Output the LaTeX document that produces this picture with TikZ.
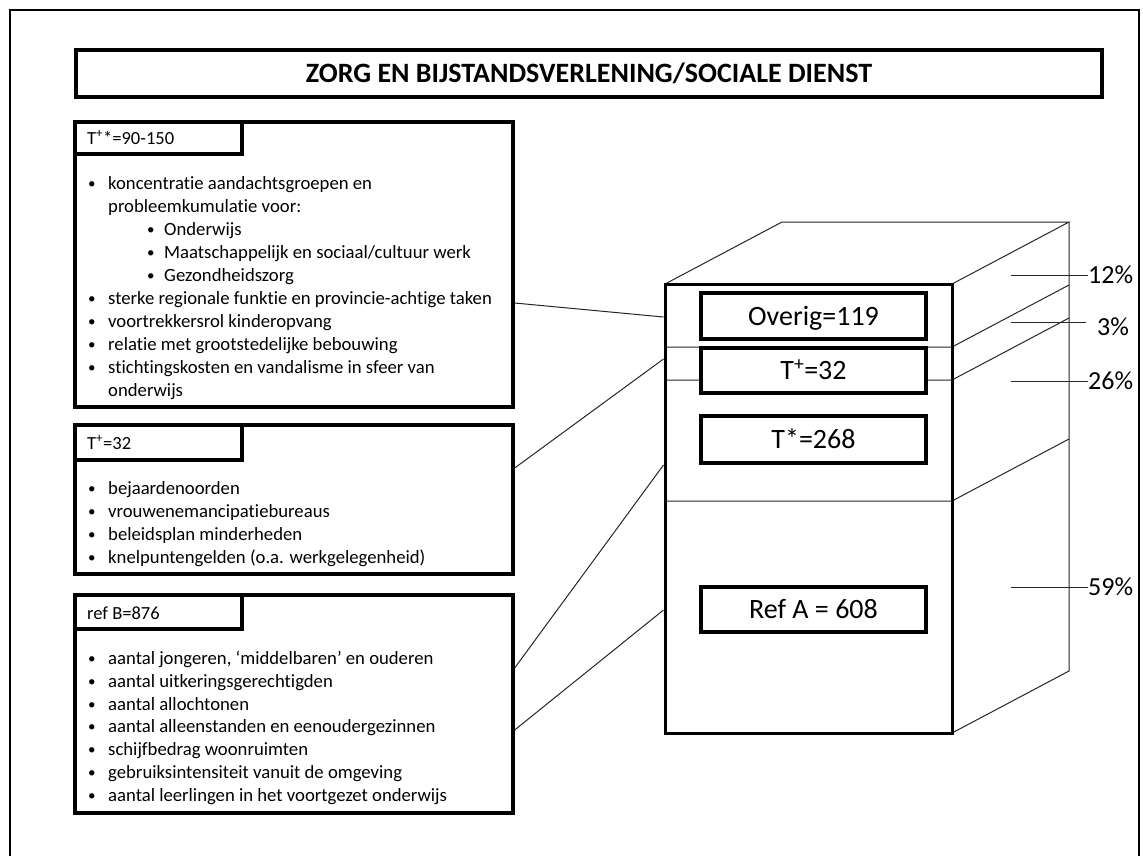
\documentclass[tikz,border=0pt]{standalone}
\usepackage{fontspec}
\setmainfont{Carlito}[Ligatures=NoCommon]
\usetikzlibrary{calc}

% bullet with a fixed indent for the list lines
\newcommand\bulitem[2][20pt]{\makebox[#1][l]{\raisebox{1pt}{\fontsize{15}{15}\selectfont\textbullet}}#2}

\tikzset{
  frameline/.style={line width=2pt},
  thinline/.style={line width=1pt, black!85},
  boxline/.style={draw, line width=3.3pt, inner sep=0pt},
  listbox/.style={boxline, rectangle, minimum width=438pt},
  tabbox/.style={boxline, rectangle, minimum width=167pt},
  hdr/.style={anchor=base west, inner sep=0pt, font=\fontsize{18.5}{23}\selectfont},
  itm/.style={anchor=base west, inner sep=0pt, font=\fontsize{18.7}{23}\selectfont},
  valbox/.style={boxline, fill=white, minimum width=225pt,
    font=\fontsize{28}{32}\selectfont, text height=18pt, text depth=0pt},
  pct/.style={anchor=west, inner sep=0pt, font=\fontsize{26}{30}\selectfont,
    text height=16.5pt, text depth=0pt},
}

\begin{document}
\begin{tikzpicture}[x=1pt, y=-1pt]
\useasboundingbox (0,0) rectangle (1143,855);

% outer frame (runs off the bottom of the page)
\draw[frameline] (10,860) -- (10,10) -- (1139,10) -- (1139,860);

% title
\node[boxline, minimum width=1026pt, minimum height=47pt,
      font=\fontsize{28}{32}\selectfont\bfseries, text height=18pt, text depth=0pt]
  (title) at (589,73.5) {ZORG EN BIJSTANDSVERLENING/SOCIALE DIENST};

% ---------- left column: three lists ----------
\node[listbox, minimum height=285pt] (b1) at (294,264.5) {};
\node[tabbox, minimum height=32pt] (t1) at (158.5,138) {};
\node[hdr] (h1) at (87,144) {T\textsuperscript{+}*=90-150};

\node[itm] (a1) at (88,189) {\bulitem{koncentratie aandachtsgroepen en}};
\node[itm] (a2) at (108,212) {probleemkumulatie voor:};
\node[itm] (a3) at (147,235) {\bulitem[17pt]{Onderwijs}};
\node[itm] (a4) at (147,258) {\bulitem[17pt]{Maatschappelijk en sociaal/cultuur werk}};
\node[itm] (a5) at (147,281) {\bulitem[17pt]{Gezondheidszorg}};
\node[itm] (a6) at (88,304) {\bulitem{sterke regionale funktie en provincie-achtige taken}};
\node[itm] (a7) at (88,327) {\bulitem{voortrekkersrol kinderopvang}};
\node[itm] (a8) at (88,350) {\bulitem{relatie met grootstedelijke bebouwing}};
\node[itm] (a9) at (88,373) {\bulitem{stichtingskosten en vandalisme in sfeer van}};
\node[itm] (a10) at (108,396) {onderwijs};

\node[listbox, minimum height=149pt] (b2) at (294,499.5) {};
\node[tabbox, minimum height=35pt] (t2) at (158.5,442.5) {};
\node[hdr] (h2) at (87,449) {T\textsuperscript{+}=32};

\node[itm] (c1) at (88,494) {\bulitem{bejaardenoorden}};
\node[itm] (c2) at (88,517) {\bulitem{vrouwenemancipatiebureaus}};
\node[itm] (c3) at (88,540) {\bulitem{beleidsplan minderheden}};
\node[itm] (c4) at (88,563) {\bulitem{knelpuntengelden (o.a. werkgelegenheid)}};

\node[listbox, minimum height=218pt] (b3) at (294,704) {};
\node[tabbox, minimum height=34pt] (t3) at (158.5,612) {};
\node[hdr] (h3) at (87,619) {ref B=876};

\node[itm] (d1) at (88,664) {\bulitem{aantal jongeren, ‘middelbaren’ en ouderen}};
\node[itm] (d2) at (88,687) {\bulitem{aantal uitkeringsgerechtigden}};
\node[itm] (d3) at (88,710) {\bulitem{aantal allochtonen}};
\node[itm] (d4) at (88,732) {\bulitem{aantal alleenstanden en eenoudergezinnen}};
\node[itm] (d5) at (88,755) {\bulitem{schijfbedrag woonruimten}};
\node[itm] (d6) at (88,778) {\bulitem{gebruiksintensiteit vanuit de omgeving}};
\node[itm] (d7) at (88,801) {\bulitem{aantal leerlingen in het voortgezet onderwijs}};

% ---------- the block ----------
\coordinate (F1) at (665,284);
\coordinate (F2) at (952,284);
\coordinate (F3) at (952,733);
\coordinate (B1) at (782,222);
\coordinate (B2) at (1069,222);
\coordinate (B3) at (1069,671);

% top and side faces
\draw[thinline] (F1) -- (B1) -- (B2) -- (F2);
\draw[thinline] (B2) -- (B3) -- (F3);

% layer boundaries, front and side
\draw[thinline] (665,347) -- (952,347) -- (1069,285);
\draw[thinline] (665,380) -- (952,380) -- (1069,318);
\draw[thinline] (665,501) -- (952,501) -- (1069,439);

% front face
\node[draw, line width=3pt, minimum width=287pt, minimum height=449pt, inner sep=0pt]
  (front) at (808.5,508.5) {};

% values per layer
\node[valbox, minimum height=46pt] (v1) at (813.5,316) {Overig=119};
\node[valbox, minimum height=45pt] (v2) at (813.5,370.5) {T\textsuperscript{+}=32};
\node[valbox, minimum height=47pt] (v3) at (813.5,439.5) {T*=268};
\node[valbox, minimum height=45pt] (v4) at (813.5,609.5) {Ref A = 608};

% shares
\node[pct] (p12) at (1088,275) {12\%};
\node[pct] (p3) at (1097,327) {3\%};
\node[pct] (p26) at (1088,381) {26\%};
\node[pct] (p59) at (1088,587) {59\%};

\coordinate (l12) at (1011,275);
\coordinate (l3a) at (1011,322);
\coordinate (l3b) at (1086,322);
\coordinate (l26) at (1011,381);
\coordinate (l59) at (1011,587);
\draw[thinline] (l12) -- (p12.west);
\draw[thinline] (l3a) -- (l3b);
\draw[thinline] (l26) -- (p26.west);
\draw[thinline] (l59) -- (p59.west);

% connectors from the lists to the block
\draw[thinline] (b1.east |- 0,303) -- (front.west |- 0,317);
\draw[thinline] (b2.east |- 0,468) -- (front.west |- 0,359);
\draw[thinline] (b3.east |- 0,668) -- (front.west |- 0,465);
\draw[thinline] (b3.east |- 0,730) -- (front.west |- 0,610);
\end{tikzpicture}
\end{document}
